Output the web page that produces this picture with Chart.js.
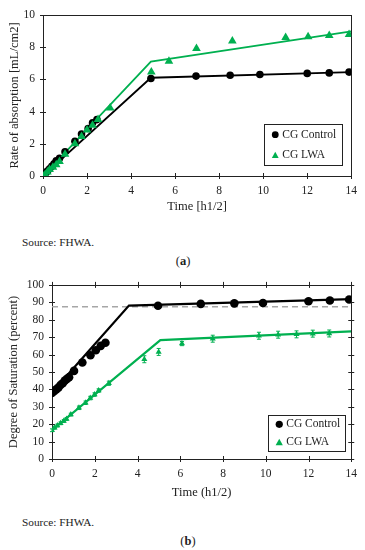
<!DOCTYPE html>
<html>
<head>
    <title>Absorption and Saturation</title>
    <script src="https://cdn.jsdelivr.net/npm/chart.js"></script>
    <style>
        body { margin: 0; background: #fff; }
        .wrap { position: relative; width: 365px; height: 550px; font-family: "Liberation Serif", serif; color: #222; }
        canvas { position: absolute; left: 0; }
        .note { position: absolute; font-size: 11.3px; }
        .cap { position: absolute; font-size: 12.5px; transform: translateX(-50%); }
    </style>
</head>
<body>
<div class="wrap">
    <canvas id="chartA" width="365" height="215" style="top:0"></canvas>
    <div class="note" style="left:22px; top:236px">Source: FHWA.</div>
    <div class="cap" style="left:183px; top:254px">(<b>a</b>)</div>
    <canvas id="chartB" width="365" height="235" style="top:270px"></canvas>
    <div class="note" style="left:22px; top:516px">Source: FHWA.</div>
    <div class="cap" style="left:188px; top:534px">(<b>b</b>)</div>
</div>

<script>
    // (a) rate of absorption
    const ctrlTimeA = [0, 0.1, 0.2, 0.3, 0.4, 0.5, 0.6, 0.75, 1.0, 1.45, 1.75, 2.05, 2.25, 2.45, 4.9, 6.95, 8.5, 9.85, 12.0, 13.0, 13.9];
    const ctrlRateA = [0, 0.15, 0.3, 0.45, 0.6, 0.75, 0.95, 1.1, 1.5, 2.15, 2.6, 2.95, 3.3, 3.5, 6.05, 6.2, 6.25, 6.3, 6.37, 6.4, 6.45];
    const lwaTimeA = [0, 0.1, 0.2, 0.3, 0.45, 0.6, 0.75, 1.0, 1.45, 1.75, 2.0, 2.25, 2.5, 3.05, 4.92, 5.72, 6.97, 8.6, 11.02, 12.04, 13.0, 13.9];
    const lwaRateA = [0, 0.1, 0.25, 0.4, 0.55, 0.7, 0.9, 1.35, 2.0, 2.45, 2.85, 3.15, 3.5, 4.22, 6.45, 7.12, 7.92, 8.38, 8.6, 8.65, 8.72, 8.78];
    const ctrlFitTimeA = [0, 4.9, 14];
    const ctrlFitRateA = [0, 6.1, 6.45];
    const lwaFitTimeA = [0, 4.9, 14];
    const lwaFitRateA = [0, 7.1, 8.98];

    // (b) degree of saturation
    const ctrlTimeB = [0, 0.1, 0.2, 0.3, 0.4, 0.5, 0.6, 0.7, 0.8, 1.03, 1.42, 1.8, 2.05, 2.28, 2.5, 4.96, 6.96, 8.53, 9.87, 12.0, 13.0, 13.9];
    const ctrlSatB = [38, 39, 40, 41, 42.5, 43.5, 45, 46, 47, 50.6, 55.4, 59.6, 62.5, 65, 66.8, 88, 89.1, 89.4, 89.6, 90.6, 91, 91.6];
    const lwaTimeB = [0, 0.12, 0.25, 0.4, 0.55, 0.68, 0.88, 1.26, 1.57, 1.79, 1.99, 2.18, 2.66, 4.32, 4.99, 6.08, 7.52, 9.68, 10.58, 11.44, 12.2, 12.97];
    const lwaSatB = [16.5, 18, 19.2, 20.5, 21.8, 23, 25.5, 29.4, 32.3, 35, 37, 39.3, 43.5, 57.3, 61.5, 66.3, 69.1, 70.8, 71.4, 71.6, 72, 72.1];
    const lwaErrB = [0.8, 0.8, 0.8, 0.8, 0.8, 0.8, 0.8, 1, 1, 1, 1, 1, 1.2, 2, 2, 1.2, 2, 2, 2, 2, 2, 2];
    const ctrlFitTimeB = [0, 3.6, 14];
    const ctrlFitSatB = [38.2, 88.1, 91.8];
    const lwaFitTimeB = [0, 5.07, 14];
    const lwaFitSatB = [16.5, 68.3, 73.3];
    const refTimeB = [0, 14];
    const refSatB = [87.5, 87.5];

    const legendLabels = ['CG Control', 'CG LWA'];
    const xTicks = [0, 2, 4, 6, 8, 10, 12, 14];

    const GREEN = '#00b050';
    const INK = '#222';
    const serif = 'Liberation Serif';

    function pts(xs, ys) {
        return xs.map((x, i) => ({x: x, y: ys[i]}));
    }

    // box around the plot with small ticks crossing the frame
    const framePlugin = {
        id: 'frame',
        beforeDatasetsDraw(chart, args, opts) {
            const {ctx, chartArea: a, scales} = chart;
            ctx.save();
            ctx.strokeStyle = INK;
            ctx.lineWidth = 1;
            ctx.strokeRect(Math.round(a.left) + 0.5, Math.round(a.top) + 0.5, Math.round(a.right - a.left), Math.round(a.bottom - a.top));
            const t = 3;
            ctx.beginPath();
            scales.x.ticks.forEach(tk => {
                const px = Math.round(scales.x.getPixelForValue(tk.value)) + 0.5;
                ctx.moveTo(px, a.bottom - t); ctx.lineTo(px, a.bottom + t);
                if (opts.all) { ctx.moveTo(px, a.top - t); ctx.lineTo(px, a.top + t); }
            });
            scales.y.ticks.forEach(tk => {
                const py = Math.round(scales.y.getPixelForValue(tk.value)) + 0.5;
                ctx.moveTo(a.left - t, py); ctx.lineTo(a.left + t, py);
                if (opts.all) { ctx.moveTo(a.right - t, py); ctx.lineTo(a.right + t, py); }
            });
            ctx.stroke();
            ctx.restore();
        }
    };

    const errorPlugin = {
        id: 'errbars',
        afterDatasetsDraw(chart) {
            const {ctx, scales} = chart;
            chart.data.datasets.forEach((ds, di) => {
                if (!ds.errors) return;
                const meta = chart.getDatasetMeta(di);
                ctx.save();
                ctx.strokeStyle = ds.borderColor;
                ctx.lineWidth = 1;
                ctx.beginPath();
                meta.data.forEach((p, i) => {
                    const v = ds.data[i].y, e = ds.errors[i];
                    const y1 = scales.y.getPixelForValue(v + e);
                    const y2 = scales.y.getPixelForValue(v - e);
                    ctx.moveTo(p.x, y1); ctx.lineTo(p.x, y2);
                    ctx.moveTo(p.x - 2, y1); ctx.lineTo(p.x + 2, y1);
                    ctx.moveTo(p.x - 2, y2); ctx.lineTo(p.x + 2, y2);
                });
                ctx.stroke();
                ctx.restore();
            });
        }
    };

    const boxLegend = {
        id: 'boxLegend',
        afterDraw(chart, args, opts) {
            const {ctx, chartArea: a} = chart;
            const x = a.right - opts.right - opts.w, y = a.bottom - opts.bottom - opts.h;
            ctx.save();
            ctx.fillStyle = '#fff';
            ctx.fillRect(x, y, opts.w, opts.h);
            ctx.strokeStyle = INK;
            ctx.lineWidth = 1;
            ctx.strokeRect(Math.round(x) + 0.5, Math.round(y) + 0.5, opts.w, opts.h);
            ctx.font = '11.5px "' + serif + '"';
            ctx.textBaseline = 'middle';
            const rows = [y + opts.h * 0.26, y + opts.h * 0.76];
            // circle
            ctx.fillStyle = '#000';
            ctx.beginPath();
            ctx.arc(x + 11, rows[0], opts.r, 0, Math.PI * 2);
            ctx.fill();
            // triangle
            ctx.fillStyle = GREEN;
            ctx.beginPath();
            ctx.moveTo(x + 11, rows[1] - opts.r);
            ctx.lineTo(x + 11 + opts.r, rows[1] + opts.r * 0.8);
            ctx.lineTo(x + 11 - opts.r, rows[1] + opts.r * 0.8);
            ctx.closePath();
            ctx.fill();
            ctx.fillStyle = INK;
            ctx.fillText(legendLabels[0], x + 18, rows[0]);
            ctx.fillText(legendLabels[1], x + 18, rows[1]);
            ctx.restore();
        }
    };

    function axisOpts(min, max, step, title, size, titlePad, isX) {
        return {
            type: 'linear',
            min: min,
            max: max,
            afterBuildTicks: isX ? (s => { s.ticks = xTicks.map(v => ({value: v})); }) : undefined,
            ticks: {stepSize: step, color: INK, padding: 8, font: {family: serif, size: 11.5}},
            grid: {display: false, drawTicks: false},
            border: {display: false},
            title: {display: true, text: title, color: INK, font: {family: serif, size: 12.5}, padding: titlePad},
            afterFit: s => { if (isX) s.height = size; else s.width = size; }
        };
    }

    const lineDs = (xs, ys, color, w, order) => ({
        type: 'line', data: pts(xs, ys), borderColor: color, borderWidth: w,
        pointRadius: 0, fill: false, tension: 0, order: order
    });

    new Chart(document.getElementById('chartA'), {
        type: 'scatter',
        data: {
            datasets: [
                {label: legendLabels[1], data: pts(lwaTimeA, lwaRateA), pointStyle: 'triangle', pointRadius: 5, backgroundColor: GREEN, borderColor: GREEN, borderWidth: 0, order: 0},
                {label: legendLabels[0], data: pts(ctrlTimeA, ctrlRateA), pointStyle: 'circle', pointRadius: 3.8, backgroundColor: '#000', borderColor: '#000', borderWidth: 0, order: 1},
                lineDs(ctrlFitTimeA, ctrlFitRateA, '#000', 1.8, 2),
                lineDs(lwaFitTimeA, lwaFitRateA, GREEN, 1.8, 3)
            ]
        },
        options: {
            responsive: false,
            animation: false,
            layout: {padding: {left: 0, right: 11, top: 9, bottom: 0}},
            scales: {
                x: axisOpts(0, 14, 2, 'Time [h1/2]', 39, {top: 0, bottom: 0.5}, true),
                y: axisOpts(0, 10, 2, 'Rate of absorption [mL/cm2]', 43, {top: 7.5, bottom: 0}, false)
            },
            plugins: {
                legend: {display: false},
                tooltip: {enabled: false},
                frame: {all: false},
                boxLegend: {w: 78, h: 41, right: 9, bottom: 11, r: 3.4}
            }
        },
        plugins: [framePlugin, boxLegend]
    });

    new Chart(document.getElementById('chartB'), {
        type: 'scatter',
        data: {
            datasets: [
                {label: legendLabels[0], data: pts(ctrlTimeB, ctrlSatB), pointStyle: 'circle', pointRadius: 4.3, backgroundColor: '#000', borderColor: '#000', borderWidth: 0, order: 0},
                {label: legendLabels[1], data: pts(lwaTimeB, lwaSatB), errors: lwaErrB, pointStyle: 'triangle', pointRadius: 3.5, backgroundColor: GREEN, borderColor: GREEN, borderWidth: 0, order: 1},
                lineDs(ctrlFitTimeB, ctrlFitSatB, '#000', 2.2, 2),
                lineDs(lwaFitTimeB, lwaFitSatB, GREEN, 2.2, 3),
                Object.assign(lineDs(refTimeB, refSatB, '#a6a6a6', 1.5, 4), {borderDash: [6, 4]})
            ]
        },
        options: {
            responsive: false,
            animation: false,
            layout: {padding: {left: 0, right: 12, top: 13.5, bottom: 0}},
            scales: {
                x: axisOpts(0, 14, 2, 'Time (h1/2)', 46, {top: 0, bottom: 4.5}, true),
                y: axisOpts(0, 100, 10, 'Degree of Saturation (percent)', 52, {top: 6.5, bottom: 0}, false)
            },
            plugins: {
                legend: {display: false},
                tooltip: {enabled: false},
                frame: {all: true},
                boxLegend: {w: 77, h: 36, right: 6, bottom: 8, r: 3.6}
            }
        },
        plugins: [framePlugin, errorPlugin, boxLegend]
    });
</script>
</body>
</html>
